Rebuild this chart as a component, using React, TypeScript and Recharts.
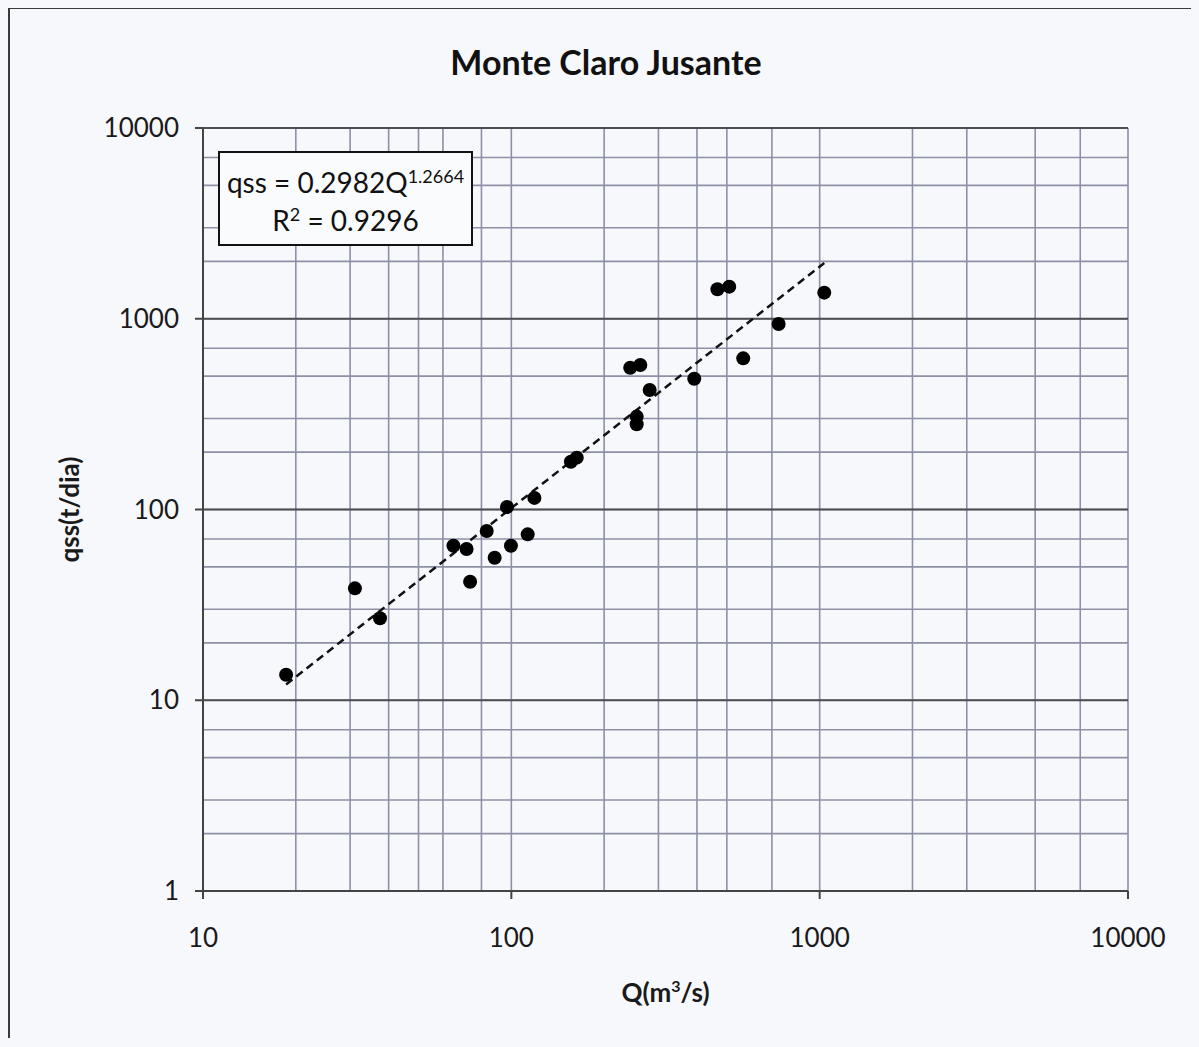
import React from 'react';
import { ScatterChart, Scatter, XAxis, YAxis, CartesianGrid, ReferenceLine } from 'recharts';

const flowQ = [18.6, 31.1, 37.5, 64.9, 71.6, 73.5, 83.2, 88.3, 96.8, 99.7, 113, 118.8, 156, 163, 243, 262, 281, 255, 255, 392, 466, 509, 565, 736, 1035];
const loadQss = [13.6, 38.6, 26.9, 64.6, 62.1, 41.8, 77.1, 55.9, 103, 64.6, 74.1, 115, 178, 187, 554, 572, 423, 307, 280, 485, 1427, 1473, 620, 938, 1370];
const trendQ = [18.6, 1035];
const trendQss = [12.1, 1960];

const xTicks = [10, 100, 1000, 10000];
const yTicks = [1, 10, 100, 1000, 10000];
const xGridValues = [10, 20, 30, 40, 50, 60, 70, 80, 90, 100, 200, 300, 400, 500, 600, 700, 800, 900, 1000, 2000, 3000, 4000, 5000, 6000, 7000, 8000, 9000, 10000];
const yGridValues = [1, 2, 3, 4, 5, 6, 7, 8, 9, 10, 20, 30, 40, 50, 60, 70, 80, 90, 100, 200, 300, 400, 500, 600, 700, 800, 900, 1000, 2000, 3000, 4000, 5000, 6000, 7000, 8000, 9000, 10000];
const yMajor = [10, 100, 1000, 10000];

const points = flowQ.map((q, i) => ({ q, qss: loadQss[i] }));
const trend = trendQ.map((q, i) => ({ q, qss: trendQss[i] }));

const FONT = 'Lato, "Open Sans", sans-serif';

const XLabel = (props: any) => {
  const vb = props.viewBox || {};
  return (
    <text x={vb.x + vb.width / 2} y={vb.y + 111} textAnchor="middle" fontFamily={FONT} fontWeight={700} fontSize={26} fill="#1a1a1a">
      Q(m<tspan dy={-10} fontSize={16}>3</tspan><tspan dy={10}>/s)</tspan>
    </text>
  );
};

const YLabel = (props: any) => {
  const vb = props.viewBox || {};
  const cx = vb.x + 16;
  const cy = vb.y + vb.height / 2;
  return (
    <text x={cx} y={cy} transform={`rotate(-90 ${cx} ${cy})`} textAnchor="middle" dominantBaseline="central" fontFamily={FONT} fontWeight={700} fontSize={26} fill="#1a1a1a">
      qss(t/dia)
    </text>
  );
};

const Dot = (p: any) => <circle cx={p.cx} cy={p.cy} r={7} fill="#000" />;
const NoDot = () => <g />;

const supStyle: React.CSSProperties = { fontSize: 18, verticalAlign: 'baseline', position: 'relative', top: -10, lineHeight: 0 };

export default function App() {
  return (
    <div style={{ position: 'relative', width: 1191, height: 1030, background: '#f7f8fc' }}>
      <style>{`html{background:#f7f8fc;overflow:hidden;} body{background:#f7f8fc;}`}</style>
      <div style={{ position: 'absolute', left: 0, top: 35, width: 1196, textAlign: 'center', fontFamily: FONT, fontWeight: 700, fontSize: 34, color: '#111', lineHeight: '38px' }}>
        Monte Claro Jusante
      </div>
      <ScatterChart width={1191} height={1030} margin={{ top: 120, right: 71, bottom: 27, left: 45 }}>
        <CartesianGrid stroke="#8d90a6" strokeWidth={1.6} horizontalValues={yGridValues} verticalValues={xGridValues} />
        {yMajor.map((v) => (
          <ReferenceLine key={v} y={v} stroke="#4d4d52" strokeWidth={2.2} />
        ))}
        <XAxis
          type="number"
          dataKey="q"
          scale="log"
          domain={[10, 10000]}
          ticks={xTicks}
          allowDataOverflow
          height={120}
          tickSize={8}
          tickMargin={30}
          stroke="#444"
          strokeWidth={2}
          tick={{ fontFamily: FONT, fontSize: 26, fill: '#1a1a1a' }}
          label={<XLabel />}
        />
        <YAxis
          type="number"
          dataKey="qss"
          scale="log"
          domain={[1, 10000]}
          ticks={yTicks}
          allowDataOverflow
          width={150}
          tickSize={8}
          tickMargin={16}
          stroke="#444"
          strokeWidth={2}
          tick={{ fontFamily: FONT, fontSize: 26, fill: '#1a1a1a' }}
          label={<YLabel />}
        />
        <Scatter data={trend} isAnimationActive={false} shape={<NoDot />} line={{ stroke: '#111', strokeWidth: 2.5, strokeDasharray: '8 5' }} />
        <Scatter data={points} isAnimationActive={false} shape={<Dot />} />
      </ScatterChart>
      <div style={{ position: 'absolute', left: 210, top: 143, width: 255, height: 95, boxSizing: 'border-box', border: '2px solid #111', background: '#fafbfd', fontFamily: FONT, fontSize: 28, color: '#111', textAlign: 'center', lineHeight: '38px', paddingTop: 10 }}>
        <div style={{ whiteSpace: 'nowrap', height: 38 }}>qss = 0.2982Q<span style={supStyle}>1.2664</span></div>
        <div style={{ height: 38 }}>R<span style={supStyle}>2</span> = 0.9296</div>
      </div>
      <div style={{ position: 'absolute', left: 0, top: -2, width: 1200, height: 3, background: '#3a3a3a', pointerEvents: 'none', zIndex: 5 }} />
      <div style={{ position: 'absolute', left: 0, top: -2, width: 2, height: 1045, background: '#3a3a3a', pointerEvents: 'none', zIndex: 5 }} />
    </div>
  );
}
